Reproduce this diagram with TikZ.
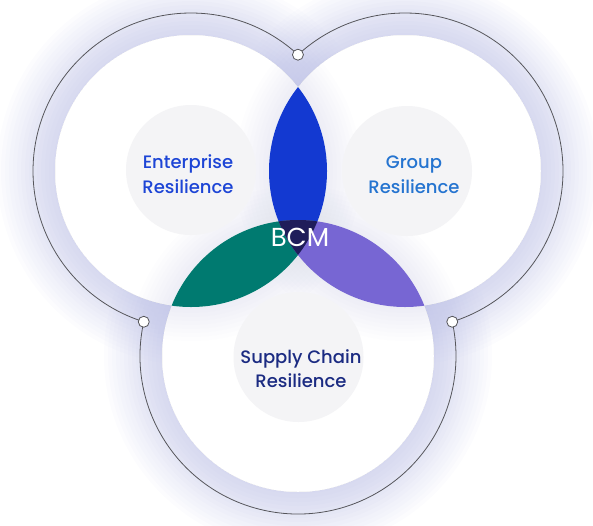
\documentclass[tikz,border=0pt]{standalone}
\usepackage{fontspec}
\setmainfont{Poppins}[UprightFont={* Medium}]
\newfontfamily\bcmfont{Poppins}
\usetikzlibrary{calc}
\definecolor{glowc}{RGB}{184,188,228}
\definecolor{lensblue}{RGB}{19,57,209}
\definecolor{lensgreen}{RGB}{0,122,112}
\definecolor{lenspurple}{RGB}{119,102,211}
\definecolor{lensdark}{RGB}{31,29,90}
\definecolor{discgray}{RGB}{244,244,246}
\definecolor{entcol}{RGB}{29,69,214}
\definecolor{grpcol}{RGB}{37,116,208}
\definecolor{supcol}{RGB}{27,43,130}
\definecolor{linecol}{RGB}{85,85,90}
\tikzset{
  marker/.style={circle,draw=linecol,fill=white,line width=0.8pt,minimum size=11pt,inner sep=0pt},
  outline/.style={draw=linecol,line width=0.8pt},
  lbl/.style={anchor=base,font=\fontsize{18}{20}\selectfont},
  bcmtext/.style={font=\bcmfont\fontsize{26}{28}\selectfont,text=white}
}
\begin{document}
\begin{tikzpicture}[x=1pt,y=1pt]
\useasboundingbox (0,0) rectangle (593,-525);
\coordinate (L) at (191,-171);
\coordinate (R) at (405,-171);
\coordinate (B) at (298,-356);
% strong glow beneath
\foreach \c in {L,R,B}{
  \foreach \rr in {194,190,...,138}{
    \fill[glowc,fill opacity=0.042,even odd rule] (\c) circle (\rr) (\c) circle (136);
  }
}
% white discs
\foreach \c in {L,R,B}{ \fill[white] (\c) circle (136); }
% faint shadow over white
\foreach \c in {L,R,B}{
  \foreach \rr in {170,166,...,138}{
    \fill[glowc,fill opacity=0.018,even odd rule] (\c) circle (\rr) (\c) circle (136);
  }
}
% gray label discs
\fill[discgray] (191,-170) circle (65);
\fill[discgray] (407,-171) circle (65);
\fill[discgray] (298.5,-357) circle (65);
% lenses
\begin{scope}\clip (L) circle (136); \fill[lensblue] (R) circle (136);\end{scope}
\begin{scope}\clip (L) circle (136); \fill[lensgreen] (B) circle (136);\end{scope}
\begin{scope}\clip (R) circle (136); \fill[lenspurple] (B) circle (136);\end{scope}
\begin{scope}\clip (L) circle (136); \clip (R) circle (136); \fill[lensdark] (B) circle (136);\end{scope}
% outline arcs
\draw[outline] ($(L)+(47.4:158)$) arc[start angle=47.4,end angle=252.6,radius=158];
\draw[outline] ($(R)+(132.6:158)$) arc[start angle=132.6,end angle=-72.6,radius=158];
\draw[outline] ($(B)+(167.4:158)$) arc[start angle=167.4,end angle=372.6,radius=158];
% markers
\node[marker] (mtop) at ($(L)+(47.4:158)$) {};
\node[marker] (mleft) at ($(L)+(252.6:158)$) {};
\node[marker] (mright) at ($(R)+(-72.6:158)$) {};
% labels
\node[lbl,text=entcol] (ent1) at (188,-168) {Enterprise};
\node[lbl,text=entcol] (ent2) at (188,-193) {Resilience};
\node[lbl,text=grpcol] (grp1) at (414,-168) {Group};
\node[lbl,text=grpcol] (grp2) at (414,-193) {Resilience};
\node[lbl,text=supcol] (sup1) at (301,-363) {Supply Chain};
\node[lbl,text=supcol] (sup2) at (301,-387) {Resilience};
\node[bcmtext,anchor=base] (bcm) at (300,-246) {BCM};
\end{tikzpicture}
\end{document}
